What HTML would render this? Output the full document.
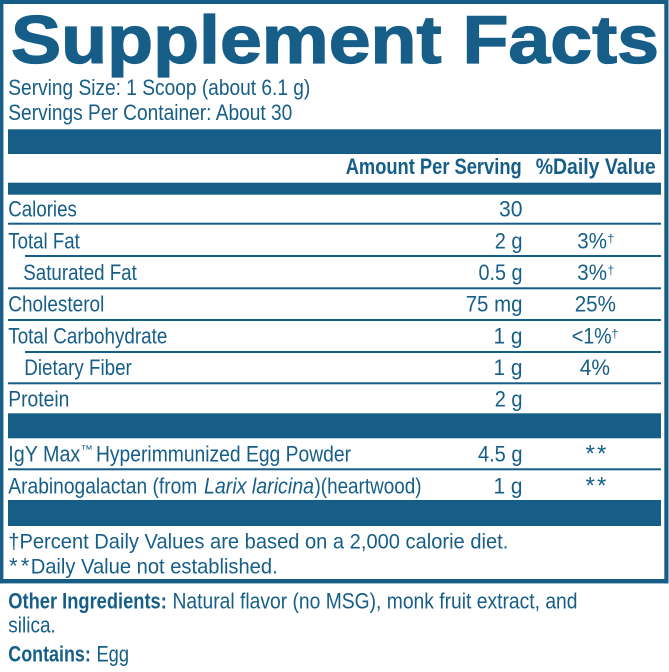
<!DOCTYPE html>
<html>
<head>
<meta charset="utf-8">
<style>
  html, body { margin:0; padding:0; background:#ffffff; }
  svg { display:block; }
  text { font-family: "Liberation Sans", Arial, sans-serif; fill:#165e88; }
</style>
</head>
<body>
<svg width="669" height="672" viewBox="0 0 669 672" xmlns="http://www.w3.org/2000/svg">
  <rect x="0" y="0" width="669" height="672" fill="#ffffff"/>
  <!-- outer border -->
  <g fill="#165e88">
    <rect x="0" y="0" width="668.5" height="4"/>
    <rect x="0" y="0" width="3.4" height="583.5"/>
    <rect x="664.3" y="0" width="4.2" height="583.5"/>
    <rect x="0" y="579" width="668.5" height="4.4"/>
  </g>

  <!-- Title -->
  <text x="11" y="63" font-size="68" font-weight="bold" textLength="648" lengthAdjust="spacingAndGlyphs" stroke="#165e88" stroke-width="1.3">Supplement Facts</text>

  <!-- Serving info -->
  <text x="8.3" y="95" font-size="21.8" textLength="302" lengthAdjust="spacingAndGlyphs">Serving Size: 1 Scoop (about 6.1 g)</text>
  <text x="8.3" y="120" font-size="21.8" textLength="284" lengthAdjust="spacingAndGlyphs">Servings Per Container: About 30</text>

  <!-- Bars -->
  <g fill="#165e88">
    <rect x="8" y="129.3" width="653" height="24.7"/>
    <rect x="8" y="182.7" width="653" height="12"/>
    <rect x="8" y="413.3" width="653" height="25"/>
    <rect x="8" y="500" width="653" height="26"/>
  </g>

  <!-- Header -->
  <text x="345.7" y="174" font-size="22" font-weight="bold" textLength="176" lengthAdjust="spacingAndGlyphs">Amount Per Serving</text>
  <text x="535.7" y="174" font-size="22" font-weight="bold" textLength="120" lengthAdjust="spacingAndGlyphs">%Daily Value</text>

  <!-- Separators -->
  <g fill="#165e88">
    <rect x="8" y="222.7" width="653" height="2"/>
    <rect x="25" y="255" width="636" height="2"/>
    <rect x="8" y="287.3" width="653" height="2"/>
    <rect x="8" y="319" width="653" height="2"/>
    <rect x="25" y="351" width="636" height="2"/>
    <rect x="8" y="382.3" width="653" height="2"/>
    <rect x="8" y="468.3" width="653" height="2"/>
  </g>

  <!-- Row labels -->
  <text x="8.3" y="216.7" font-size="21.8" textLength="68.5" lengthAdjust="spacingAndGlyphs">Calories</text>
  <text x="8.3" y="248.3" font-size="21.8" textLength="71.5" lengthAdjust="spacingAndGlyphs">Total Fat</text>
  <text x="23.3" y="280" font-size="21.8" textLength="113.5" lengthAdjust="spacingAndGlyphs">Saturated Fat</text>
  <text x="8.3" y="311.7" font-size="21.8" textLength="96" lengthAdjust="spacingAndGlyphs">Cholesterol</text>
  <text x="8.3" y="343.3" font-size="21.8" textLength="159" lengthAdjust="spacingAndGlyphs">Total Carbohydrate</text>
  <text x="24.3" y="375" font-size="21.8" textLength="107.5" lengthAdjust="spacingAndGlyphs">Dietary Fiber</text>
  <text x="8.3" y="406.7" font-size="21.8" textLength="61" lengthAdjust="spacingAndGlyphs">Protein</text>

  <!-- Amounts -->
  <text x="499" y="216.7" font-size="21.8" textLength="23.5" lengthAdjust="spacingAndGlyphs">30</text>
  <text x="494.7" y="248.3" font-size="21.8" textLength="27.8" lengthAdjust="spacingAndGlyphs">2 g</text>
  <text x="478.5" y="280" font-size="21.8" textLength="44" lengthAdjust="spacingAndGlyphs">0.5 g</text>
  <text x="465.7" y="311.7" font-size="21.8" textLength="56.8" lengthAdjust="spacingAndGlyphs">75 mg</text>
  <text x="493.5" y="343.3" font-size="21.8" textLength="29" lengthAdjust="spacingAndGlyphs">1 g</text>
  <text x="493.5" y="375" font-size="21.8" textLength="29" lengthAdjust="spacingAndGlyphs">1 g</text>
  <text x="494.7" y="406.7" font-size="21.8" textLength="27.8" lengthAdjust="spacingAndGlyphs">2 g</text>

  <!-- Daily values -->
  <text x="577.3" y="248.3" font-size="21.8" textLength="29.7" lengthAdjust="spacingAndGlyphs">3%</text>
  <text x="607.5" y="242.3" font-size="12">†</text>
  <text x="577.3" y="280" font-size="21.8" textLength="29.7" lengthAdjust="spacingAndGlyphs">3%</text>
  <text x="607.5" y="274" font-size="12">†</text>
  <text x="574.7" y="311.7" font-size="21.8" textLength="41.3" lengthAdjust="spacingAndGlyphs">25%</text>
  <text x="571.7" y="343.3" font-size="21.8" textLength="40" lengthAdjust="spacingAndGlyphs">&lt;1%</text>
  <text x="611.5" y="337.3" font-size="12">†</text>
  <text x="579.7" y="375" font-size="21.8" textLength="30.3" lengthAdjust="spacingAndGlyphs">4%</text>

  <!-- Other ingredients rows -->
  <text x="8.3" y="461.7" font-size="21.8" textLength="72" lengthAdjust="spacingAndGlyphs">IgY Max</text>
  <text x="80.5" y="453" font-size="11" textLength="12.5" lengthAdjust="spacingAndGlyphs">™</text>
  <text x="96" y="461.7" font-size="21.8" textLength="255" lengthAdjust="spacingAndGlyphs">Hyperimmunized Egg Powder</text>
  <text x="478" y="461.7" font-size="21.8" textLength="44.5" lengthAdjust="spacingAndGlyphs">4.5 g</text>
  <text x="585.5" y="461.7" font-size="24">*</text>
  <text x="597" y="461.7" font-size="24">*</text>

  <text x="8.3" y="493.3" font-size="21.8" textLength="189" lengthAdjust="spacingAndGlyphs">Arabinogalactan (from</text>
  <text x="204" y="493.3" font-size="21.8" font-style="italic" textLength="110" lengthAdjust="spacingAndGlyphs">Larix laricina</text>
  <text x="314.5" y="493.3" font-size="21.8" textLength="107" lengthAdjust="spacingAndGlyphs">)(heartwood)</text>
  <text x="493.5" y="493.3" font-size="21.8" textLength="29" lengthAdjust="spacingAndGlyphs">1 g</text>
  <text x="585.5" y="493.3" font-size="24">*</text>
  <text x="597" y="493.3" font-size="24">*</text>

  <!-- Footnotes -->
  <text x="8.3" y="548.3" font-size="21" textLength="500" lengthAdjust="spacingAndGlyphs">†Percent Daily Values are based on a 2,000 calorie diet.</text>
  <text x="9" y="573.3" font-size="22">*</text>
  <text x="20.7" y="573.3" font-size="22">*</text>
  <text x="30.7" y="573.3" font-size="21" textLength="247" lengthAdjust="spacingAndGlyphs">Daily Value not established.</text>

  <!-- Bottom text -->
  <text x="8.3" y="608.3" font-size="22" font-weight="bold" textLength="158.5" lengthAdjust="spacingAndGlyphs">Other Ingredients:</text>
  <text x="172.5" y="608.3" font-size="21.8" textLength="405" lengthAdjust="spacingAndGlyphs">Natural flavor (no MSG), monk fruit extract, and</text>
  <text x="8.3" y="632.7" font-size="21.8" textLength="47.5" lengthAdjust="spacingAndGlyphs">silica.</text>
  <text x="8.3" y="661.7" font-size="22" font-weight="bold" textLength="82.5" lengthAdjust="spacingAndGlyphs">Contains:</text>
  <text x="96.5" y="661.7" font-size="21.8" textLength="32.5" lengthAdjust="spacingAndGlyphs">Egg</text>
</svg>
</body>
</html>
